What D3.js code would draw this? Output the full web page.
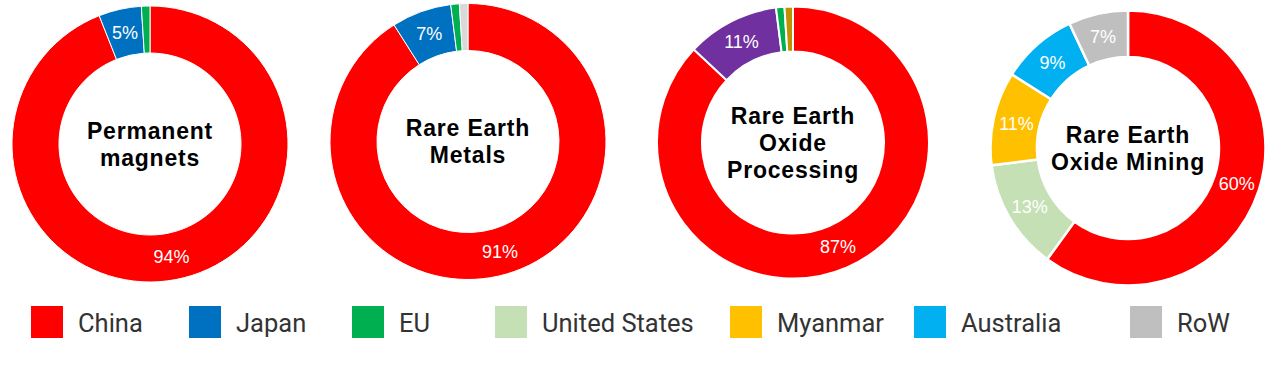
<!DOCTYPE html>
<html>
<head>
<meta charset="utf-8">
<script src="https://cdnjs.cloudflare.com/ajax/libs/d3/7.8.5/d3.min.js"></script>
<style>
  body { margin: 0; background: #fff; }
  svg { display: block; }
</style>
</head>
<body>
<svg id="viz"></svg>
<script>
// data
var countries = ["China", "Japan", "EU", "United States", "Myanmar", "Australia", "RoW"]
var countryColors = ["#FF0000", "#0070C0", "#00B050", "#C5E0B4", "#FFC000", "#00B0F0", "#BFBFBF"]

var magnets    = [{c: "China", v: 94}, {c: "Japan", v: 5}, {c: "EU", v: 1}]
var metals     = [{c: "China", v: 91}, {c: "Japan", v: 7}, {c: "EU", v: 1}, {c: "Other (light)", v: 1}]
var processing = [{c: "China", v: 87}, {c: "Other (purple)", v: 11}, {c: "EU", v: 1}, {c: "Other (gold)", v: 1}]
var mining     = [{c: "China", v: 60}, {c: "United States", v: 13}, {c: "Myanmar", v: 11}, {c: "Australia", v: 9}, {c: "RoW", v: 7}]

var titles = [["Permanent", "magnets"], ["Rare Earth", "Metals"], ["Rare Earth", "Oxide", "Processing"], ["Rare Earth", "Oxide Mining"]]

// extra slice colours not shown in the legend
var extraColors = {"Other (light)": "#D9D9D9", "Other (purple)": "#7030A0", "Other (gold)": "#BF9000"}

// layout
var width = 1274
var height = 387
var charts = [
  {data: magnets,    cx: 150,  cy: 144,   r: 138,   gap: 1},
  {data: metals,     cx: 468,  cy: 141.5, r: 138,   gap: 1},
  {data: processing, cx: 793,  cy: 142.5, r: 136,   gap: 2},
  {data: mining,     cx: 1128, cy: 148,   r: 137.5, gap: 2.5}
]
var innerR = 91
var legendX = [31, 189, 352, 495, 730, 914, 1130]

var svg = d3.select("#viz").attr("width", width).attr("height", height)

var color = d3.scaleOrdinal().domain(countries).range(countryColors)
function fillOf(name) { return extraColors[name] || color(name) }

var pie = d3.pie().sort(null).value(d => d.v)

charts.forEach(function(ch, i) {
  var arc = d3.arc().innerRadius(innerR).outerRadius(ch.r)
  var labelArc = d3.arc().innerRadius((innerR + ch.r) / 2).outerRadius((innerR + ch.r) / 2)
  var g = svg.append("g").attr("transform", "translate(" + ch.cx + "," + ch.cy + ")")
  var slices = pie(ch.data)

  g.selectAll("path")
    .data(slices)
    .enter()
    .append("path")
    .attr("d", arc)
    .attr("fill", d => fillOf(d.data.c))
    .attr("stroke", "#fff")
    .attr("stroke-width", ch.gap)

  g.selectAll("text.pct")
    .data(slices.filter(d => d.data.v >= 5))
    .enter()
    .append("text")
    .attr("class", "pct")
    .attr("transform", d => "translate(" + labelArc.centroid(d) + ")")
    .attr("text-anchor", "middle")
    .attr("dy", "0.36em")
    .attr("fill", "#fff")
    .style("font-family", "'Liberation Sans', Arial, sans-serif")
    .style("font-size", "18px")
    .text(d => d.data.v + "%")

  var lines = titles[i]
  var lh = 27
  g.append("text")
    .attr("text-anchor", "middle")
    .style("font-family", "'Liberation Sans', Arial, sans-serif")
    .style("font-weight", "bold")
    .style("font-size", "23px")
    .style("letter-spacing", "0.8px")
    .attr("fill", "#000")
    .selectAll("tspan")
    .data(lines)
    .enter()
    .append("tspan")
    .attr("x", 0)
    .attr("y", (d, j) => -(lines.length - 1) * lh / 2 + 8 + j * lh)
    .text(d => d)
})

// legend
var legend = svg.append("g")
  .selectAll("g")
  .data(countries)
  .enter()
  .append("g")
  .attr("transform", (d, i) => "translate(" + legendX[i] + ",306)")

legend.append("rect")
  .attr("width", 32)
  .attr("height", 32)
  .attr("fill", d => color(d))

legend.append("text")
  .attr("x", 47)
  .attr("y", 26)
  .attr("fill", "#333")
  .style("font-family", "Roboto, sans-serif")
  .style("font-size", "25.5px")
  .text(d => d)
</script>
</body>
</html>
